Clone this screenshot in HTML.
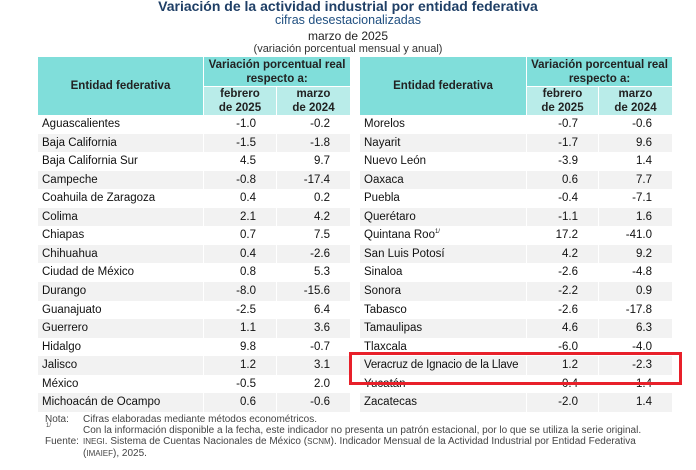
<!DOCTYPE html>
<html><head><meta charset="utf-8"><style>
body{margin:0;width:696px;height:470px;background:#fff;font-family:"Liberation Sans",sans-serif;position:relative;overflow:hidden}
.a{position:absolute}
.t{left:0;width:696px;text-align:center}
.h1{background:#80deda}
.h2{background:#b9ece9}
.hd{font-weight:bold;font-size:11.5px;color:#222;display:flex;align-items:center;justify-content:center;text-align:center;line-height:14px}
.r{font-size:11.5px;color:#111;height:18.56px;line-height:18.56px;white-space:nowrap}
.g{background:#f2f2f2}
.n{font-size:10px;color:#444}
sup{font-size:6px;position:relative;top:-5px;vertical-align:baseline}
</style></head><body>
<div class="a t" style="top:-2px;font-weight:bold;font-size:14px;color:#1f3f66">Variación de la actividad industrial por entidad federativa</div>
<div class="a t" style="top:13px;font-size:12.5px;color:#1f4f80">cifras desestacionalizadas</div>
<div class="a t" style="top:29px;font-size:12px;color:#222">marzo de 2025</div>
<div class="a t" style="top:43px;font-size:11px;color:#333">(variación porcentual mensual y anual)</div>
<div id="L"></div>
<script>
const L=[["Aguascalientes","-1.0","-0.2"],["Baja California","-1.5","-1.8"],["Baja California Sur","4.5","9.7"],["Campeche","-0.8","-17.4"],["Coahuila de Zaragoza","0.4","0.2"],["Colima","2.1","4.2"],["Chiapas","0.7","7.5"],["Chihuahua","0.4","-2.6"],["Ciudad de México","0.8","5.3"],["Durango","-8.0","-15.6"],["Guanajuato","-2.5","6.4"],["Guerrero","1.1","3.6"],["Hidalgo","9.8","-0.7"],["Jalisco","1.2","3.1"],["México","-0.5","2.0"],["Michoacán de Ocampo","0.6","-0.6"]];
const R=[["Morelos","-0.7","-0.6"],["Nayarit","-1.7","9.6"],["Nuevo León","-3.9","1.4"],["Oaxaca","0.6","7.7"],["Puebla","-0.4","-7.1"],["Querétaro","-1.1","1.6"],["Quintana Roo<sup>1/</sup>","17.2","-41.0"],["San Luis Potosí","4.2","9.2"],["Sinaloa","-2.6","-4.8"],["Sonora","-2.2","0.9"],["Tabasco","-2.6","-17.8"],["Tamaulipas","4.6","6.3"],["Tlaxcala","-6.0","-4.0"],["<span style='letter-spacing:-0.2px'>Veracruz de Ignacio de la Llave</span>","1.2","-2.3"],["Yucatán","0.4","-1.4"],["Zacatecas","-2.0","1.4"]];
let h="";
function tbl(x0,x1,x2,x3,d){
 h+=`<div class="a h1 hd" style="left:${x0}px;top:57px;width:${x1-x0-1}px;height:58px">Entidad federativa</div>`;
 h+=`<div class="a h1 hd" style="left:${x1}px;top:57px;width:${x3-x1}px;height:29px">Variación porcentual real<br>respecto a:</div>`;
 h+=`<div class="a h2 hd" style="left:${x1}px;top:87px;width:${x2-x1-1}px;height:28px">febrero<br>de 2025</div>`;
 h+=`<div class="a h2 hd" style="left:${x2}px;top:87px;width:${x3-x2}px;height:28px">marzo<br>de 2024</div>`;
 d.forEach((r,i)=>{const y=115+i*18.56,c=i%2?"g":"";
 h+=`<div class="a r ${c}" style="left:${x0}px;top:${y}px;width:${x1-x0-1}px;padding-left:4px;box-sizing:border-box">${r[0]}</div>`;
 h+=`<div class="a r ${c}" style="left:${x1}px;top:${y}px;width:${x2-x1-1}px;text-align:right;padding-right:20px;box-sizing:border-box">${r[1]}</div>`;
 h+=`<div class="a r ${c}" style="left:${x2}px;top:${y}px;width:${x3-x2}px;text-align:right;padding-right:20px;box-sizing:border-box">${r[2]}</div>`;});
}
tbl(38,204,277,350,L);tbl(360,527,599,672,R);
document.getElementById("L").innerHTML=h;
</script>
<div class="a" style="left:349px;top:352px;width:327px;height:27px;border:3px solid #e8202a"></div>
<div class="a n" style="left:45px;top:414px">Nota:</div>
<div class="a n" style="left:83px;top:414px">Cifras elaboradas mediante métodos econométricos.</div>
<div class="a n" style="left:46px;top:423px;font-size:6px">1/</div>
<div class="a n" style="left:83px;top:425px;white-space:nowrap">Con la información disponible a la fecha, este indicador no presenta un patrón estacional, por lo que se utiliza la serie original.</div>
<div class="a n" style="left:45px;top:436px">Fuente:</div>
<div class="a n" style="left:83px;top:436px;width:560px;line-height:12px"><span style="font-size:8px">INEGI</span>. Sistema de Cuentas Nacionales de México (<span style="font-size:8px">SCNM</span>). Indicador Mensual de la Actividad Industrial por Entidad Federativa (<span style="font-size:8px">IMAIEF</span>), 2025.</div>
</body></html>
